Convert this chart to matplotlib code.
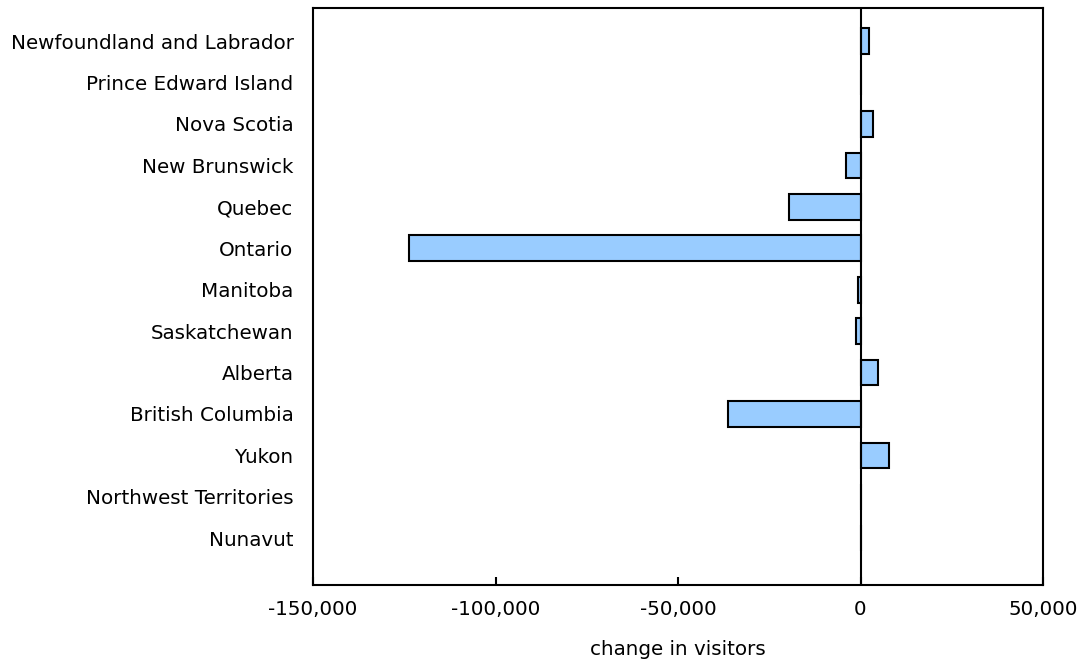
import matplotlib.pyplot as plt
from matplotlib.ticker import FuncFormatter

provinces = ['Newfoundland and Labrador', 'Prince Edward Island', 'Nova Scotia',
             'New Brunswick', 'Quebec', 'Ontario', 'Manitoba', 'Saskatchewan',
             'Alberta', 'British Columbia', 'Yukon', 'Northwest Territories', 'Nunavut']
change = [2200, 0, 3300, -4100, -19700, -123800, -750, -1300, 4700, -36400, 7700, 0, 0]

fig = plt.figure(figsize=(10.8, 6.61), dpi=100)
ax = fig.add_axes([313 / 1080, 1 - 585 / 661, 730 / 1080, 577 / 661])

y = range(len(provinces))
ax.barh(y, change, height=0.62, color='#99CCFF', edgecolor='black', linewidth=1.5)
ax.axvline(0, color='black', linewidth=1.5)

ax.set_xlim(-150000, 50000)
ax.set_ylim(len(provinces) - 1 + 1.13, -0.8)
ax.set_xticks([-150000, -100000, -50000, 0, 50000])
ax.xaxis.set_major_formatter(FuncFormatter(lambda v, p: f'{int(v):,}'))
ax.set_yticks(list(y))
ax.set_yticklabels(provinces)

ax.tick_params(axis='x', direction='in', length=6, width=1.5, labelsize=14.3, pad=11)
ax.tick_params(axis='y', length=0, labelsize=14.3, pad=14)
for s in ax.spines.values():
    s.set_linewidth(1.5)

ax.set_xlabel('change in visitors', fontsize=14.3, labelpad=15)

fig.savefig('out.png', dpi=100)
